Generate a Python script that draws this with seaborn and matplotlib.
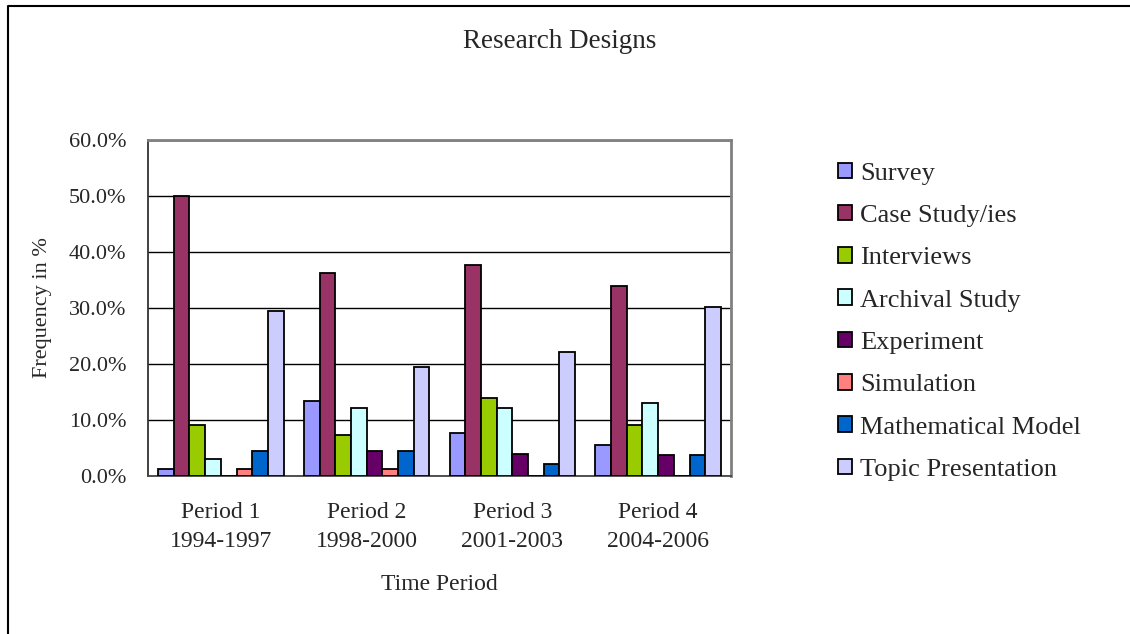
import matplotlib
matplotlib.use("Agg")
import matplotlib.pyplot as plt
from matplotlib.lines import Line2D
from matplotlib.patches import Patch
from matplotlib.ticker import PercentFormatter, MultipleLocator
import seaborn as sns
import pandas as pd

# Share of research designs per time period (%)
periods = ["Period 1\n1994-1997", "Period 2\n1998-2000",
           "Period 3\n2001-2003", "Period 4\n2004-2006"]
designs = ["Survey", "Case Study/ies", "Interviews", "Archival Study",
           "Experiment", "Simulation", "Mathematical Model", "Topic Presentation"]
survey = [1.3, 13.4, 7.7, 5.6]
case_study = [50.0, 36.3, 37.7, 33.9]
interviews = [9.1, 7.4, 13.9, 9.1]
archival = [3.0, 12.1, 12.1, 13.1]
experiment = [0.0, 4.5, 3.9, 3.8]
simulation = [1.3, 1.3, 0.0, 0.0]
math_model = [4.5, 4.5, 2.1, 3.8]
topic = [29.5, 19.5, 22.1, 30.1]
colors = ["#9999FF", "#993366", "#99CC00", "#CCFFFF",
          "#660066", "#FF8080", "#0066CC", "#CCCCFF"]

series = [survey, case_study, interviews, archival,
          experiment, simulation, math_model, topic]
rows = []
for name, vals in zip(designs, series):
    for p, v in zip(periods, vals):
        rows.append({"period": p, "design": name, "value": v})
df = pd.DataFrame(rows)

sns.set_style("white")
plt.rcParams["font.family"] = ["Liberation Serif", "DejaVu Serif"]
plt.rcParams["font.size"] = 16

W, H = 1130, 634
fig = plt.figure(figsize=(W / 100, H / 100), dpi=100)
ax = fig.add_axes([148 / W, 1 - 476 / H, (731 - 148) / W, (476 - 140) / H])

sns.barplot(data=df, x="period", y="value", hue="design", order=periods,
            hue_order=designs, palette=dict(zip(designs, colors)),
            saturation=1, width=0.862, gap=0, edgecolor="black",
            linewidth=1.3, legend=False, ax=ax, zorder=3)

ax.set_xlim(-0.5, 3.5)
ax.set_ylim(0, 60)
ax.yaxis.set_major_locator(MultipleLocator(10))
ax.yaxis.set_major_formatter(PercentFormatter(decimals=1))
ax.grid(axis="y", color="black", linewidth=1.0, zorder=0)
ax.set_axisbelow(True)

for side in ("top", "right"):
    ax.spines[side].set_color("#808080")
    ax.spines[side].set_linewidth(2)
ax.spines["left"].set_color("#333333")
ax.spines["left"].set_linewidth(1.3)
ax.spines["bottom"].set_color("#444444")
ax.spines["bottom"].set_linewidth(1.3)

ax.tick_params(axis="y", which="major", direction="inout", length=11,
               width=1.2, color="#333333", pad=10, labelsize=16)
ax.set_xticks([0, 1, 2, 3])
ax.set_xticklabels(periods, fontsize=17, linespacing=1.48)
ax.tick_params(axis="x", which="major", length=0, pad=19)
# category separators on the x axis
ax.set_xticks([-0.5, 0.5, 1.5, 2.5, 3.5], minor=True)
ax.tick_params(axis="x", which="minor", direction="out", length=7,
               width=1.2, color="#333333")

ax.set_xlabel("Time Period", fontsize=17, labelpad=16)
ax.set_ylabel("Frequency in %", fontsize=16, labelpad=12)

fig.text(560 / W, 1 - 42 / H, "Research Designs", ha="center",
         va="center", fontsize=19.5)

handles = [Patch(facecolor=c, edgecolor="black", linewidth=1.3) for c in colors]
fig.legend(handles, designs, loc="upper left",
           bbox_to_anchor=(827 / W, 1 - 152 / H), frameon=False,
           fontsize=19, handlelength=0.53, handleheight=0.53,
           handletextpad=0.32, labelspacing=0.765, borderaxespad=0)

# chart area border (left and top edges)
fig.add_artist(Line2D([8 / W, 8 / W, 1.0], [0.0, 1 - 6 / H, 1 - 6 / H],
                      transform=fig.transFigure, color="black", linewidth=1.5))

fig.savefig("out.png", dpi=100, facecolor="white")
